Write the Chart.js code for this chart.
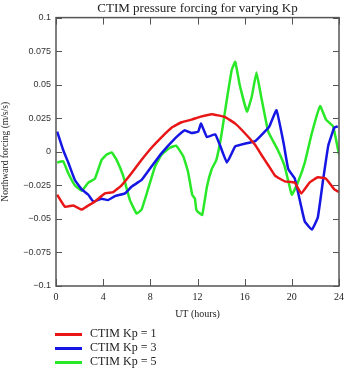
<!DOCTYPE html>
<html>
<head>
<meta charset="utf-8">
<script src="https://cdn.jsdelivr.net/npm/chart.js@4"></script>
<style>
  body { margin: 0; background: #fff; }
  #wrap { position: relative; width: 345px; height: 372px; }
  #legend { position: absolute; left: 55px; top: 326px; font: 12px "Liberation Serif", serif; color: #222; }
  #legend div { height: 14px; line-height: 14px; white-space: nowrap; }
  #legend span { display: inline-block; width: 27px; height: 3px; vertical-align: middle; margin-right: 8px; }
</style>
</head>
<body>
<div id="wrap">
  <canvas id="ctim" width="345" height="372"></canvas>
  <div id="legend"></div>
</div>
<script>
// values (UT hours, northward forcing m/s/s)
var kp1Hours = [0.1, 0.76, 1.47, 2.17, 2.74, 3.3, 4.15, 4.86, 5.56, 6.4, 7.26, 8.1, 8.96, 9.8, 10.65, 11.5, 12.2, 13.2, 14.3, 15.2, 16.0, 16.9, 17.4, 18.0, 18.6, 19.4, 20.25, 20.8, 21.5, 22.2, 22.9, 23.6, 24];
var kp1Values = [-0.032, -0.041, -0.040, -0.043, -0.040, -0.037, -0.031, -0.030, -0.025, -0.016, -0.006, 0.003, 0.011, 0.018, 0.022, 0.024, 0.026, 0.028, 0.026, 0.021, 0.014, 0.005, -0.002, -0.010, -0.018, -0.022, -0.023, -0.031, -0.023, -0.019, -0.020, -0.028, -0.030];

var kp3Hours = [0.1, 0.6, 1.04, 1.6, 2.18, 2.74, 3.16, 3.87, 4.4, 5.0, 5.85, 6.4, 7.26, 8.1, 8.96, 10.1, 10.9, 11.5, 12.06, 12.3, 12.8, 13.5, 13.9, 14.5, 15.2, 16.0, 16.9, 17.7, 18.1, 18.7, 19.3, 19.7, 20.25, 20.8, 21.1, 21.7, 22.2, 22.65, 23.1, 23.6, 23.9];
var kp3Values = [0.015, 0.0015, -0.008, -0.021, -0.028, -0.032, -0.037, -0.035, -0.036, -0.033, -0.031, -0.026, -0.021, -0.011, -0.001, 0.010, 0.016, 0.014, 0.015, 0.021, 0.011, 0.013, 0.005, -0.008, 0.004, 0.006, 0.008, 0.015, 0.019, 0.031, 0.0065, -0.013, -0.020, -0.041, -0.052, -0.058, -0.049, -0.021, 0.005, 0.018, 0.019];

var kp5Hours = [0.1, 0.6, 1.04, 1.6, 2.18, 2.74, 3.3, 3.87, 4.3, 4.72, 5.14, 5.7, 6.27, 6.84, 7.26, 7.8, 8.4, 8.96, 9.66, 10.2, 10.8, 11.2, 11.55, 11.78, 11.9, 12.06, 12.4, 12.8, 13.2, 13.6, 14.0, 14.4, 14.9, 15.2, 15.6, 16.2, 16.6, 17.0, 17.4, 18.0, 18.8, 19.4, 20.0, 20.5, 21.1, 21.7, 22.4, 22.9, 23.5, 24.0];
var kp5Values = [-0.008, -0.007, -0.016, -0.025, -0.029, -0.023, -0.020, -0.006, -0.002, -0.0005, -0.006, -0.018, -0.036, -0.046, -0.043, -0.028, -0.011, -0.002, 0.003, 0.0045, -0.0035, -0.015, -0.032, -0.035, -0.043, -0.045, -0.047, -0.026, -0.013, -0.006, 0.011, 0.034, 0.061, 0.067, 0.049, 0.030, 0.041, 0.059, 0.041, 0.015, 0.0015, -0.011, -0.032, -0.023, -0.008, 0.014, 0.034, 0.024, 0.019, -0.002];

var xTicks = [0, 4, 8, 12, 16, 20, 24];
var seriesLabels = ['CTIM Kp = 1', 'CTIM Kp = 3', 'CTIM Kp = 5'];
var seriesColors = ['rgb(232, 22, 22)', 'rgb(22, 22, 228)', 'rgb(40, 232, 40)'];

function toPoints(hours, values) {
  return hours.map(function(h, i) { return {x: h, y: values[i]}; });
}
var allSeries = [toPoints(kp1Hours, kp1Values), toPoints(kp3Hours, kp3Values), toPoints(kp5Hours, kp5Values)];

var frameColor = '#555';

// box round the plot with inward ticks
var framePlugin = {
  id: 'frame',
  afterDraw: function(chart) {
    var ctx = chart.ctx, a = chart.chartArea;
    var xs = chart.scales.x, ys = chart.scales.y;
    ctx.save();
    ctx.strokeStyle = frameColor;
    ctx.lineWidth = 1.5;
    ctx.strokeRect(a.left, a.top, a.right - a.left, a.bottom - a.top);
    ctx.lineWidth = 1;
    ctx.beginPath();
    xTicks.forEach(function(t) {
      var px = Math.round(xs.getPixelForValue(t)) + 0.5;
      ctx.moveTo(px, a.bottom); ctx.lineTo(px, a.bottom - 7);
      ctx.moveTo(px, a.top); ctx.lineTo(px, a.top + 7);
    });
    ys.ticks.forEach(function(t) {
      var py = Math.round(ys.getPixelForValue(t.value)) + 0.5;
      ctx.moveTo(a.left, py); ctx.lineTo(a.left + 6, py);
      ctx.moveTo(a.right, py); ctx.lineTo(a.right - 6, py);
    });
    ctx.stroke();
    ctx.restore();
  }
};

var chart = new Chart('ctim', {
  type: 'line',
  plugins: [framePlugin],
  data: {
    datasets: allSeries.map(function(pts, i) {
      return {
        label: seriesLabels[i],
        data: pts,
        borderColor: seriesColors[i],
        backgroundColor: seriesColors[i],
        borderWidth: 2.5,
        pointRadius: 0,
        fill: false,
        tension: 0.1
      };
    })
  },
  options: {
    responsive: false,
    animation: false,
    layout: { padding: { left: 0, right: 6, top: 0, bottom: 52 } },
    plugins: {
      legend: { display: false },
      tooltip: { enabled: false },
      title: {
        display: true,
        fullSize: false,
        text: 'CTIM pressure forcing for varying Kp',
        color: '#222',
        font: { family: 'Liberation Serif', size: 13, weight: 'normal' },
        padding: { top: 1, bottom: 1 }
      }
    },
    scales: {
      x: {
        type: 'linear',
        min: 0, max: 24,
        afterBuildTicks: function(scale) {
          scale.ticks = xTicks.map(function(v) { return {value: v}; });
        },
        afterFit: function(scale) {
          scale.height = 34;
          scale.paddingLeft = 0;
          scale.paddingRight = 0;
        },
        grid: { display: false, drawTicks: false },
        border: { display: false },
        ticks: {
          padding: 5,
          maxRotation: 0,
          color: '#222',
          font: { family: 'Liberation Serif', size: 10 }
        },
        title: {
          display: true,
          text: 'UT (hours)',
          color: '#222',
          padding: { top: 2, bottom: 0 },
          font: { family: 'Liberation Serif', size: 10 }
        }
      },
      y: {
        min: -0.1, max: 0.1,
        afterFit: function(scale) {
          scale.width = 56;
          scale.paddingTop = 0;
          scale.paddingBottom = 0;
        },
        grid: { display: false, drawTicks: false },
        border: { display: false },
        ticks: {
          stepSize: 0.025,
          padding: 5,
          color: '#333',
          font: { family: 'Liberation Sans', size: 9 },
          callback: function(v) {
            var r = Math.round(v * 1000) / 1000;
            if (r === 0) return '0';
            var s = String(Math.abs(r));
            return r < 0 ? '\u2212' + s : s;
          }
        },
        title: {
          display: true,
          text: 'Northward forcing (m/s/s)',
          color: '#222',
          padding: { top: 0, bottom: 4 },
          font: { family: 'Liberation Serif', size: 9.5 }
        }
      }
    }
  }
});

// legend under the chart
var legend = document.getElementById('legend');
chart.data.datasets.forEach(function(ds) {
  var row = document.createElement('div');
  var swatch = document.createElement('span');
  swatch.style.background = ds.borderColor;
  row.appendChild(swatch);
  row.appendChild(document.createTextNode(ds.label));
  legend.appendChild(row);
});
</script>
</body>
</html>
